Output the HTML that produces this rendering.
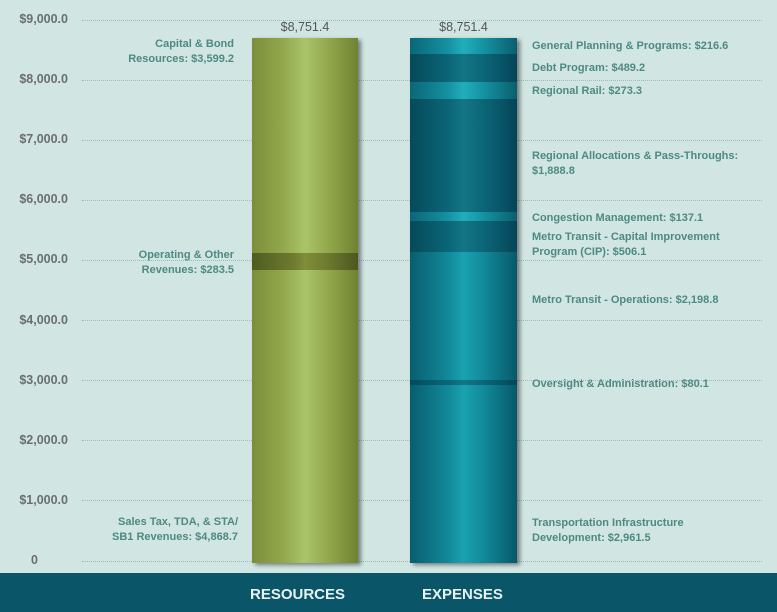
<!DOCTYPE html>
<html><head><style>
body{margin:0;width:777px;height:612px;background:#d1e5e2;position:relative;overflow:hidden;font-family:"Liberation Sans",sans-serif}
.yl{position:absolute;left:0;width:68px;text-align:right;font-size:12.5px;font-weight:bold;color:#6a6f6e}
.g{position:absolute;left:82px;width:680px;border-top:1px dotted #9bb;}
.lab{position:absolute;font-size:11px;font-weight:bold;color:#4d8a82;line-height:15px;white-space:nowrap}
.r{text-align:right}
.seg{position:absolute;left:0;width:100%}
.G{background:linear-gradient(90deg,#7c8e3a,#93a84c 30%,#a9c46a 50%,#93a84c 72%,#6f8232)}
.Gd{background:linear-gradient(90deg,#4f5c22,#6e7c30 40%,#7f8e38 50%,#6e7c30 70%,#4b571f)}
.L{background:linear-gradient(90deg,#0b6677,#1490a0 35%,#21aebb 50%,#1490a0 70%,#0a5e6e)}
.D{background:linear-gradient(90deg,#054a5a,#0b6577 35%,#137585 50%,#0b6577 70%,#044556)}
.M{background:linear-gradient(90deg,#085e6f,#118898 35%,#1aa2b0 50%,#118898 70%,#07586a)}
.bar{position:absolute;box-shadow:3px 2px 4px rgba(0,0,0,.45)}
</style></head><body>
<div class="g" style="top:20px"></div><div class="g" style="top:80px"></div><div class="g" style="top:140px"></div><div class="g" style="top:200px"></div><div class="g" style="top:260px"></div><div class="g" style="top:320px"></div><div class="g" style="top:380px"></div><div class="g" style="top:440px"></div><div class="g" style="top:500px"></div><div class="g" style="top:561px"></div>
<div class="yl" style="top:12px">$9,000.0</div><div class="yl" style="top:72px">$8,000.0</div><div class="yl" style="top:132px">$7,000.0</div><div class="yl" style="top:192px">$6,000.0</div><div class="yl" style="top:252px">$5,000.0</div><div class="yl" style="top:313px">$4,000.0</div><div class="yl" style="top:373px">$3,000.0</div><div class="yl" style="top:433px">$2,000.0</div><div class="yl" style="top:493px">$1,000.0</div><div class="yl" style="top:553px;width:38px">0</div>
<div style="position:absolute;left:252px;width:106px;top:20px;text-align:center;font-size:12.5px;color:#555">$8,751.4</div>
<div style="position:absolute;left:410px;width:107px;top:20px;text-align:center;font-size:12.5px;color:#555">$8,751.4</div>
<div class="bar" style="left:252px;top:38px;width:106px;height:525px">
<div class="seg G" style="top:0;height:215px"></div>
<div class="seg Gd" style="top:215px;height:17px"></div>
<div class="seg G" style="top:232px;height:293px"></div>
</div>
<div class="bar" style="left:410px;top:38px;width:107px;height:525px">
<div class="seg L" style="top:0;height:16px"></div>
<div class="seg D" style="top:16px;height:28px"></div>
<div class="seg L" style="top:44px;height:17px"></div>
<div class="seg D" style="top:61px;height:113px"></div>
<div class="seg L" style="top:174px;height:9px"></div>
<div class="seg D" style="top:183px;height:31px"></div>
<div class="seg M" style="top:214px;height:128px"></div>
<div class="seg D" style="top:342px;height:5px"></div>
<div class="seg M" style="top:347px;height:178px"></div>
</div>
<div class="lab r" style="left:40px;width:194px;top:37px">Capital &amp; Bond<br>Resources: $3,599.2</div>
<div class="lab r" style="left:40px;width:194px;top:248px">Operating &amp; Other<br>Revenues: $283.5</div>
<div class="lab r" style="left:40px;width:198px;top:515px">Sales Tax, TDA, &amp; STA/<br>SB1 Revenues: $4,868.7</div>
<div class="lab" style="left:532px;top:39px">General Planning &amp; Programs: $216.6</div>
<div class="lab" style="left:532px;top:61px">Debt Program: $489.2</div>
<div class="lab" style="left:532px;top:84px">Regional Rail: $273.3</div>
<div class="lab" style="left:532px;top:149px">Regional Allocations &amp; Pass-Throughs:<br>$1,888.8</div>
<div class="lab" style="left:532px;top:211px">Congestion Management: $137.1</div>
<div class="lab" style="left:532px;top:230px">Metro Transit - Capital Improvement<br>Program (CIP): $506.1</div>
<div class="lab" style="left:532px;top:293px">Metro Transit - Operations: $2,198.8</div>
<div class="lab" style="left:532px;top:377px">Oversight &amp; Administration: $80.1</div>
<div class="lab" style="left:532px;top:516px">Transportation Infrastructure<br>Development: $2,961.5</div>
<div style="position:absolute;left:0;top:573px;width:777px;height:39px;background:#0b5569"></div>
<div style="position:absolute;left:250px;top:586px;font-size:15px;font-weight:bold;color:#e8f2f2">RESOURCES</div>
<div style="position:absolute;left:422px;top:586px;font-size:15px;font-weight:bold;color:#e8f2f2">EXPENSES</div>
</body></html>
